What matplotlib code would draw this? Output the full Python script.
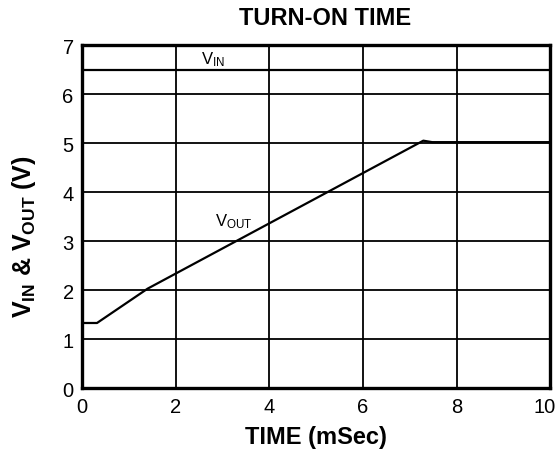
import matplotlib
matplotlib.use("Agg")
import matplotlib.pyplot as plt
import matplotlib.transforms as mtransforms

plt.rcParams['font.family'] = ['Liberation Sans', 'DejaVu Sans']
plt.rcParams['mathtext.fontset'] = 'custom'
plt.rcParams['mathtext.rm'] = 'Liberation Sans'
plt.rcParams['mathtext.it'] = 'Liberation Sans'
plt.rcParams['mathtext.bf'] = 'Liberation Sans:bold'

# data
vin_t = [0.0, 0.0, 10.0]
vin_v = [0.0, 6.5, 6.5]
vout_t = [0.0, 0.32, 1.4, 7.29, 7.48, 10.0]
vout_v = [1.33, 1.33, 2.03, 5.05, 5.02, 5.02]
xticks = [0, 2, 4, 6, 8, 10]
yticks = [0, 1, 2, 3, 4, 5, 6, 7]

fig = plt.figure(figsize=(5.58, 4.52), dpi=100)
ax = fig.add_axes([0.147, 0.139, 0.839, 0.759])

ax.plot(vin_t, vin_v, color='black', lw=1.6, solid_joinstyle='miter')
ax.plot(vout_t, vout_v, color='black', lw=1.6)

ax.set_xlim(0, 10)
ax.set_ylim(0, 7)
ax.set_xticks(xticks)
ax.set_yticks(yticks)
ax.grid(True, color='black', lw=1.3)
ax.tick_params(length=0, labelsize=14.5)
ax.tick_params(axis='x', pad=6)
ax.tick_params(axis='y', pad=6)
for s in ax.spines.values():
    s.set_linewidth(2.4)

# nudge the last x tick label inward so it stays inside the figure
last = ax.get_xticklabels()[-1]
offset = mtransforms.ScaledTranslation(-6 / 100, 0, fig.dpi_scale_trans)
for t in ax.xaxis.get_major_ticks()[-1:]:
    t.label1.set_transform(t.label1.get_transform() + offset)

ax.text(2.8, 6.72, r'V$_{\mathregular{IN}}$', fontsize=12, ha='center', va='center')
ax.text(3.25, 3.42, r'V$_{\mathregular{OUT}}$', fontsize=12, ha='center', va='center')

ax.set_xlabel('TIME (mSec)', fontsize=17, fontweight='bold', labelpad=7)
ax.set_ylabel(r'V$_{\mathbf{IN}}$ & V$_{\mathbf{OUT}}$ (V)', fontsize=18,
              fontweight='bold')
ax.yaxis.set_label_coords(-0.093, 0.446)
ax.set_title('TURN-ON TIME', fontsize=17, fontweight='bold', pad=15, x=0.519)

fig.savefig('out.png', dpi=100)
